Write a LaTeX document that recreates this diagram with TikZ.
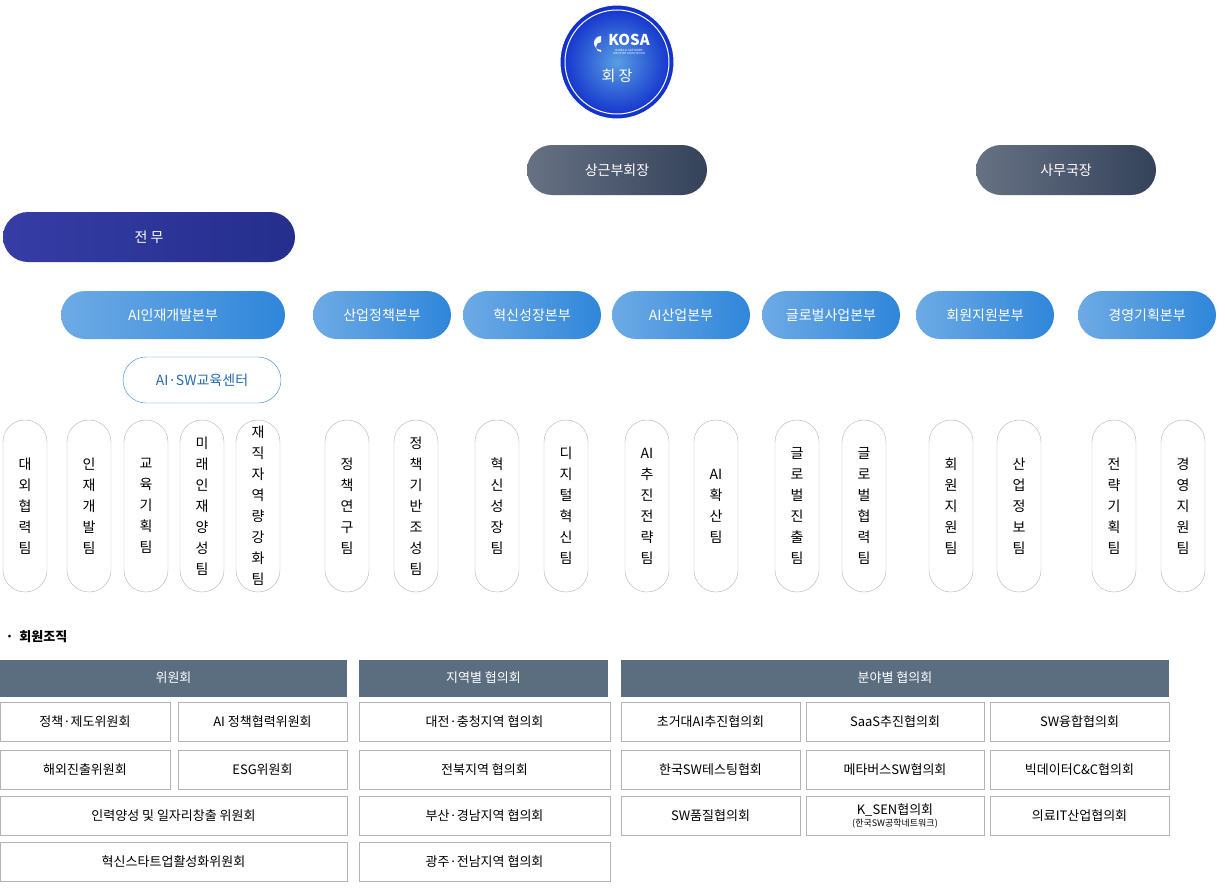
\documentclass[tikz,border=0pt]{standalone}
\usepackage{fontspec}
\setmainfont{Noto Sans CJK KR}
\usetikzlibrary{positioning,backgrounds}
\definecolor{kblue}{HTML}{2F86DA}
\definecolor{kdark}{HTML}{34425A}
\definecolor{khead}{HTML}{5B6E7F}
\definecolor{kline}{HTML}{B4B4B4}
\newcommand\team[3]{\node[team] (#1) at (#2,506) {#3};}
\newcommand\cell[5]{\node[cell,minimum width=#4] (#1) at (#2,#3) {#5};}
\begin{document}
\begin{tikzpicture}[x=1pt,y=-1pt,
	line/.style={draw=kline,line width=0.9pt},
	darkpill/.style={rounded corners=25pt,minimum height=50pt,text=white,
		left color=kdark!75,right color=kdark,font=\fontsize{14}{16}\selectfont},
	bluepill/.style={rounded corners=24pt,minimum height=48pt,minimum width=138pt,text=white,
		left color=kblue!70!white,right color=kblue,font=\fontsize{14}{16}\selectfont},
	team/.style={draw=kline,fill=white,rounded corners=22pt,minimum width=44pt,
		minimum height=172pt,align=center,font=\fontsize{14}{21}\selectfont},
	head/.style={fill=khead,text=white,minimum height=37pt,font=\fontsize{13}{15}\selectfont},
	cell/.style={draw=kline,minimum height=39pt,font=\fontsize{13}{15}\selectfont}]
\useasboundingbox[fill=white] (0,0) rectangle (1225,891);
% top
\node[circle,minimum size=114pt,inner color=kblue!80!white,outer color=blue!60!kblue!85!black,
	draw=white,line width=1pt] (chief) at (617,62) {};
\draw[white,line width=1pt] (chief) circle (52pt);
\node[text=white,font=\bfseries\fontsize{15}{15}\selectfont] (logo) at (629,40) {KOSA};
\node[text=white,align=center,font=\fontsize{2.8}{3.2}\selectfont] (sub) at (629,52) {KOREA AI SOFTWARE\\INDUSTRY ASSOCIATION};
\fill[white] (601,36) arc (90:270:7pt) -- ++(0,-2pt) arc (270:90:5pt) -- cycle;
\node[text=white,font=\fontsize{15}{15}\selectfont] (chieftxt) at (617,76) {회 장};
\node[darkpill,minimum width=180pt] (vice) at (617,170) {상근부회장};
\node[darkpill,minimum width=180pt] (sec) at (1066,170) {사무국장};
\node[darkpill,minimum width=292pt,left color=blue!40!kdark!90,right color=blue!30!kdark] (exec) at (149,237) {전 무};
% divisions
\node[bluepill,minimum width=224pt] (aihr) at (173,315) {AI인재개발본부};
\node[bluepill] (ind) at (382,315) {산업정책본부};
\node[bluepill] (inno) at (532,315) {혁신성장본부};
\node[bluepill] (aiind) at (681,315) {AI산업본부};
\node[bluepill] (glob) at (831,315) {글로벌사업본부};
\node[bluepill] (mem) at (985,315) {회원지원본부};
\node[bluepill] (plan) at (1147,315) {경영기획본부};
\node[draw=kblue,fill=white,text=kblue!80!black,rounded corners=23pt,minimum width=158pt,
	minimum height=46pt,font=\fontsize{14}{16}\selectfont] (edu) at (202,380) {AI·SW교육센터};
% teams
\team{t1}{25}{대\\외\\협\\력\\팀}
\team{t2}{89}{인\\재\\개\\발\\팀}
\team{t3}{146}{교\\육\\기\\획\\팀}
\team{t4}{202}{미\\래\\인\\재\\양\\성\\팀}
\team{t5}{258}{재\\직\\자\\역\\량\\강\\화\\팀}
\team{t6}{347}{정\\책\\연\\구\\팀}
\team{t7}{416}{정\\책\\기\\반\\조\\성\\팀}
\team{t8}{497}{혁\\신\\성\\장\\팀}
\team{t9}{566}{디\\지\\털\\혁\\신\\팀}
\team{t10}{647}{AI\\추\\진\\전\\략\\팀}
\team{t11}{716}{AI\\확\\산\\팀}
\team{t12}{797}{글\\로\\벌\\진\\출\\팀}
\team{t13}{864}{글\\로\\벌\\협\\력\\팀}
\team{t14}{951}{회\\원\\지\\원\\팀}
\team{t15}{1019}{산\\업\\정\\보\\팀}
\team{t16}{1114}{전\\략\\기\\획\\팀}
\team{t17}{1183}{경\\영\\지\\원\\팀}
% connectors
\begin{scope}[on background layer]
\draw[line] (chief.south) |- (sec.north);
\draw[line] (chief.south) -- (vice.north);
\draw[line] (vice.south) -- (617,282);
\draw[line] (617,237) -- (exec.east);
\draw[line] (ind.north) |- (glob.north);
\foreach \d in {inno,aiind} \draw[line] (\d.north) -- (\d.north |- 0,282);
\draw[line] (sec.south) -- (1066,282);
\draw[line] (mem.north) |- (plan.north);
\draw[line] (exec.south) -- (149,275) -| (t1.north);
\draw[line] (149,275) -- (aihr.north -| 149,0);
\draw[line] (aihr.south) -- (aihr.south |- 0,349) -| (t2.north);
\draw[line] (aihr.south |- 0,349) -| (edu.north);
\draw[line] (edu.south) -- (edu.south |- 0,411) -| (t3.north);
\draw[line] (edu.south |- 0,411) -| (t5.north);
\draw[line] (edu.south) -- (t4.north);
\foreach \d/\a/\b in {ind/t6/t7,inno/t8/t9,aiind/t10/t11,glob/t12/t13,mem/t14/t15,plan/t16/t17}{
	\draw[line] (\d.south) -- (\d.south |- 0,408) -| (\a.north);
	\draw[line] (\d.south |- 0,408) -| (\b.north);
}
\end{scope}
% member organizations
\node[anchor=west,font=\bfseries\fontsize{13}{15}\selectfont] (title) at (2,637) {·\ \ 회원조직};
\node[head,minimum width=347pt] (h1) at (173.5,678) {위원회};
\node[head,minimum width=249pt] (h2) at (483.5,678) {지역별 협의회};
\node[head,minimum width=548pt] (h3) at (895,678) {분야별 협의회};
\cell{c1}{85}{722}{170pt}{정책·제도위원회}
\cell{c2}{262.5}{722}{169pt}{AI 정책협력위원회}
\cell{c3}{85}{770}{170pt}{해외진출위원회}
\cell{c4}{262.5}{770}{169pt}{ESG위원회}
\cell{c5}{173.5}{816}{347pt}{인력양성 및 일자리창출 위원회}
\cell{c6}{173.5}{862}{347pt}{혁신스타트업활성화위원회}
\cell{r1}{484.5}{722}{251pt}{대전·충청지역 협의회}
\cell{r2}{484.5}{770}{251pt}{전북지역 협의회}
\cell{r3}{484.5}{816}{251pt}{부산·경남지역 협의회}
\cell{r4}{484.5}{862}{251pt}{광주·전남지역 협의회}
\cell{f1}{710.5}{722}{179pt}{초거대AI추진협의회}
\cell{f2}{895}{722}{178pt}{SaaS추진협의회}
\cell{f3}{1079.5}{722}{179pt}{SW융합협의회}
\cell{f4}{710.5}{770}{179pt}{한국SW테스팅협회}
\cell{f5}{895}{770}{178pt}{메타버스SW협의회}
\cell{f6}{1079.5}{770}{179pt}{빅데이터C\&C협의회}
\cell{f7}{710.5}{816}{179pt}{SW품질협의회}
\node[cell,minimum width=178pt,align=center] (f8) at (895,816)
	{K\_SEN협의회\\[-3pt]{\fontsize{9}{10}\selectfont(한국SW공학네트워크)}};
\cell{f9}{1079.5}{816}{179pt}{의료IT산업협의회}
\end{tikzpicture}
\end{document}
